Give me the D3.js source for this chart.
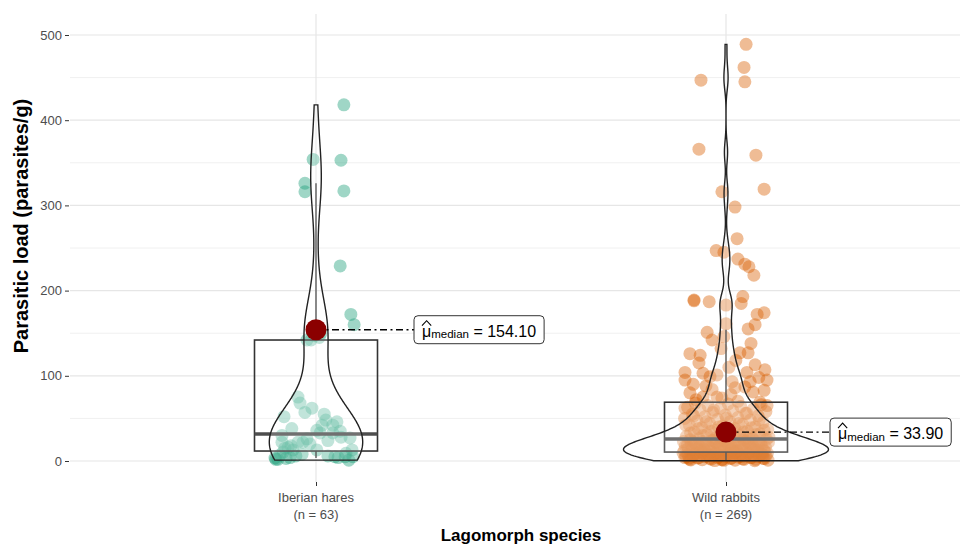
<!DOCTYPE html>
<html><head><meta charset="utf-8">
<script src="https://cdn.jsdelivr.net/npm/d3@7"></script>
<style>body{margin:0;background:#fff}svg{display:block}text{font-family:"Liberation Sans",Arial,sans-serif}</style>
</head><body><svg id="chart" width="960" height="544"></svg>
<script>
// ---------------- data ----------------
const categories = ["Iberian hares", "Wild rabbits"];
const groupCounts = [63, 269];
const yTicks = [0, 100, 200, 300, 400, 500];
const yMinorTicks = [50, 150, 250, 350, 450];

// Iberian hares: parasitic load and horizontal jitter (% of category step)
const haresLoad = [418,354,353,326,317,316,229,172,160,142,142,145,147,150,152,155,158,
  30,22,16,13,3.5,7,10.5,22,26,22,13,5,27,13,5,5,2,3,4,6,8,9,1,2,4,6,18,20,24,28,15,
  75,52,57,62,36,42,33,42,46,33,38,48,55,68,35];
const haresJitter = [6.8,-0.7,6.1,-2.7,6.8,-2.7,5.9,8.5,9.3,-2.2,-1.2,0.8,-0.4,1.2,-0.9,0.3,-0.2,
  -8.3,-8.3,-6.8,-5.6,-10,-8.8,-8.0,-3.2,-2.2,-4.4,0.2,4.6,8.3,8.8,9.0,7.1,-9.3,-7.3,-6.3,-4.9,-3.4,7.3,8.0,-9.8,5.4,2.9,-6.1,-1.5,2.9,6.1,-7.6,
  -4.4,-7.8,-2.7,-1.0,0.2,1.5,1.0,4.1,5.1,4.1,-5.9,2.4,2.0,-3.9,5.9];

// Wild rabbits: sparse upper points (load + jitter) and dense low cluster
const rabbitsLoadUpper = [489,462,447,445,366,359,319,316,298,261,247,245,237,231,228,218,
  189,188,187,193,185,183,174,172,161,160,155,151,146,126,124,115,103,104,95,101,93,127,127,
  113,107,95,104,93,86,87,80,75,75,81,69,62,
  72,78,84,90,98,110,118,132,138,142,70,74,88,83,99];
const rabbitsJitterUpper = [4.9,4.4,-6.1,4.6,-6.6,7.3,9.3,-1.0,2.2,2.7,-2.4,-0.5,2.9,4.6,5.6,6.8,
  -7.8,-7.8,-4.1,4.1,3.7,0,9.3,7.6,0,7.1,5.4,-4.6,-0.5,-8.8,-6.3,-6.6,-5.6,-10,-10,-2.2,1.5,3.4,5.4,
  7.1,9.5,10,5.1,5.9,2.2,4.6,-8.8,-5.6,-2.2,6.6,8.3,-10,
  -7.3,1.2,-3.4,-8.0,8.0,0.7,2.4,-1.2,6.1,-3.4,2.9,-1.0,-4.9,9.3,-3.9];
const rabbitsLoadLow = [
  0.5,1,1,1.5,2,2,2,2.5,3,3,3,3.5,4,4,4,4.5,5,5,5,5.5,6,6,6,6.5,7,7,7,7.5,8,8,8,8.5,9,9,9,9.5,10,10,10,
  0.8,1.2,1.8,2.2,2.8,3.2,3.8,4.2,4.8,5.2,5.8,6.2,6.8,7.2,7.8,8.2,8.8,9.2,9.8,10.2,
  0.3,1.6,3.4,5.4,6.6,7.4,8.6,9.6,
  11,11,12,12,13,13,14,14,15,15,16,16,17,17,18,18,19,19,20,20,21,21,22,22,23,23,24,24,25,25,
  11.5,12.5,13.5,14.5,15.5,16.5,17.5,18.5,19.5,20.5,21.5,22.5,23.5,24.5,25.5,
  10.8,11.8,12.8,13.8,14.8,15.8,16.8,17.8,18.8,19.8,20.8,21.8,22.8,
  12.2,14.2,16.2,18.2,20.2,22.2,24.2,11.2,13.2,
  26,27,28,29,30,31,32,33,34,35,36,37,38,39,40,41,42,43,44,45,46,47,48,49,50,51,52,53,54,55,
  56,57,58,59,60,61,62,63,64,65,66,67,68,
  26.5,27,28,29,30,31,32,33,34,35,36,37,38,39,40,42,44,46,48,50,53,56,60,65,27.5];

// box-plot summaries and centrality
const boxQ1 = [11.7, 10.5];
const boxMedian = [31.7, 25.8];
const boxQ3 = [142, 69];
const whiskerLow = [3.5, 0.3];
const whiskerHigh = [326, 154];
const centerValue = [154.10, 33.90];
const groupColors = ["#1B9E77", "#D95F02"];

// ---------------- layout ----------------
const svg = d3.select("#chart");
const panel = {left: 70, right: 972, top: 14, bottom: 482};
const x = d3.scalePoint().domain(categories).range([panel.left, panel.right]).padding(0.6);
const step = x.step();
const y = d3.scaleLinear().domain([0, 500]).range([461, 35]);

// gridlines
const grid = svg.append("g");
grid.selectAll("line.minor").data(yMinorTicks).join("line")
  .attr("x1", panel.left).attr("x2", 960).attr("y1", d => y(d)).attr("y2", d => y(d))
  .attr("stroke", "#f0f0f0").attr("stroke-width", 1);
grid.selectAll("line.major").data(yTicks).join("line")
  .attr("x1", panel.left).attr("x2", 960).attr("y1", d => y(d)).attr("y2", d => y(d))
  .attr("stroke", "#e6e6e6").attr("stroke-width", 1.2);
grid.selectAll("line.vert").data(categories).join("line")
  .attr("x1", d => x(d)).attr("x2", d => x(d)).attr("y1", panel.top).attr("y2", panel.bottom)
  .attr("stroke", "#e6e6e6").attr("stroke-width", 1.2);

// points
const groups = [
  {cat: categories[0], vals: haresLoad, jit: haresJitter},
  {cat: categories[1], vals: rabbitsLoadUpper.concat(rabbitsLoadLow),
   jit: rabbitsJitterUpper.concat(rabbitsLoadLow.map((v, i) => (((i * 0.6180339887 + 0.37) % 1) * 2 - 1) * 10.5))}
];
const pts = [];
groups.forEach((g, gi) => g.vals.forEach((v, i) => pts.push({gi, cat: g.cat, v, j: g.jit[i]})));
svg.append("g").selectAll("circle").data(pts).join("circle")
  .attr("cx", d => x(d.cat) + d.j / 100 * step)
  .attr("cy", d => y(d.v))
  .attr("r", 6.5)
  .attr("fill", d => groupColors[d.gi]).attr("fill-opacity", 0.42);

// boxplots
const bw = 0.15 * step;
const box = svg.append("g");
categories.forEach((c, i) => {
  const cx = x(c);
  box.append("line").attr("x1", cx).attr("x2", cx).attr("y1", y(boxQ3[i])).attr("y2", y(whiskerHigh[i]))
    .attr("stroke", "#333").attr("stroke-width", 1.4);
  box.append("line").attr("x1", cx).attr("x2", cx).attr("y1", y(boxQ1[i])).attr("y2", y(whiskerLow[i]))
    .attr("stroke", "#333").attr("stroke-width", 1.4);
  box.append("rect").attr("x", cx - bw).attr("width", 2 * bw)
    .attr("y", y(boxQ3[i])).attr("height", y(boxQ1[i]) - y(boxQ3[i]))
    .attr("fill", "#fff").attr("fill-opacity", 0.2).attr("stroke", "#333").attr("stroke-width", 1.6);
  box.append("line").attr("x1", cx - bw).attr("x2", cx + bw).attr("y1", y(boxMedian[i])).attr("y2", y(boxMedian[i]))
    .attr("stroke", "#4d4d4d").attr("stroke-width", 3.6);
});

// violins (gaussian KDE, nrd0 bandwidth, scale = "area")
function nrd0(a) {
  const s = d3.deviation(a), q = d3.quantile(a, 0.75) - d3.quantile(a, 0.25);
  return 0.9 * Math.min(s, q / 1.34) * Math.pow(a.length, -0.2);
}
const dens = groups.map(g => {
  const a = g.vals.slice().sort(d3.ascending);
  const h = nrd0(a), lo = a[0], hi = a[a.length - 1], n = 512;
  const out = [];
  for (let k = 0; k < n; k++) {
    const t = lo + (hi - lo) * k / (n - 1);
    let s = 0;
    for (const v of a) { const u = (t - v) / h; s += Math.exp(-0.5 * u * u); }
    out.push({t, d: s / (a.length * h * Math.sqrt(2 * Math.PI))});
  }
  return out;
});
const dmax = d3.max(dens, dd => d3.max(dd, e => e.d));
dens.forEach((dd, i) => {
  const cx = x(categories[i]);
  const area = d3.area()
    .x0(e => cx - e.d / dmax * 0.25 * step)
    .x1(e => cx + e.d / dmax * 0.25 * step)
    .y(e => y(e.t));
  svg.append("path").attr("d", area(dd))
    .attr("fill", "#fff").attr("fill-opacity", 0.2)
    .attr("stroke", "#222").attr("stroke-width", 1.4);
});

// centrality labels
const labelOffset = [98, 104];
categories.forEach((c, i) => {
  const cx = x(c), cy = y(centerValue[i]);
  const lx = cx + labelOffset[i];
  svg.append("line").attr("x1", cx).attr("x2", lx).attr("y1", cy).attr("y2", cy)
    .attr("stroke", "#000").attr("stroke-width", 1.4).attr("stroke-dasharray", "7,3.5,2,3.5");
  svg.append("circle").attr("cx", cx).attr("cy", cy).attr("r", 10.5).attr("fill", "#8B0000");
  const g = svg.append("g").attr("transform", `translate(${lx},${cy})`);
  const rect = g.append("rect").attr("y", -14).attr("height", 28).attr("rx", 4)
    .attr("fill", "#fff").attr("stroke", "#333").attr("stroke-width", 1);
  const t = g.append("text").attr("x", 8).attr("y", 7).attr("font-size", 16).attr("fill", "#000");
  const mu = t.append("tspan").text("μ");
  t.append("tspan").attr("font-size", 11.5).attr("dy", 1.5).text("median");
  t.append("tspan").attr("dy", -1.5).text(" = " + d3.format(".2f")(centerValue[i]));
  const mw = mu.node().getComputedTextLength();
  g.append("path").attr("d", `M${8},${-4} L${8 + mw / 2},${-9} L${8 + mw},${-4}`)
    .attr("fill", "none").attr("stroke", "#000").attr("stroke-width", 1.1);
  const tw = t.node().getComputedTextLength();
  rect.attr("width", tw + 16);
});

// axes
const yAxis = svg.append("g").attr("transform", `translate(${panel.left - 1},0)`)
  .call(d3.axisLeft(y).tickValues(yTicks).tickSize(4).tickPadding(3));
yAxis.select(".domain").remove();
yAxis.selectAll(".tick line").attr("stroke", "#333");
yAxis.selectAll(".tick text").attr("fill", "#4d4d4d").attr("font-size", 13)
  .style("font-family", '"Liberation Sans",Arial,sans-serif');

const xAxis = svg.append("g").attr("transform", `translate(0,${panel.bottom})`)
  .call(d3.axisBottom(x).tickSize(4).tickFormat(""));
xAxis.select(".domain").remove();
xAxis.selectAll(".tick line").attr("stroke", "#333");
categories.forEach((c, i) => {
  const t = svg.append("text").attr("text-anchor", "middle").attr("font-size", 13).attr("fill", "#4d4d4d");
  t.append("tspan").attr("x", x(c)).attr("y", 502).text(c);
  t.append("tspan").attr("x", x(c)).attr("y", 519).text(`(n = ${groupCounts[i]})`);
});

svg.append("text").attr("x", (panel.left + panel.right) / 2).attr("y", 541)
  .attr("text-anchor", "middle").attr("font-size", 17).attr("font-weight", "bold")
  .text("Lagomorph species");
svg.append("text").attr("transform", "translate(28,226) rotate(-90)")
  .attr("text-anchor", "middle").attr("font-size", 20).attr("font-weight", "bold")
  .text("Parasitic load (parasites/g)");
</script></body></html>
